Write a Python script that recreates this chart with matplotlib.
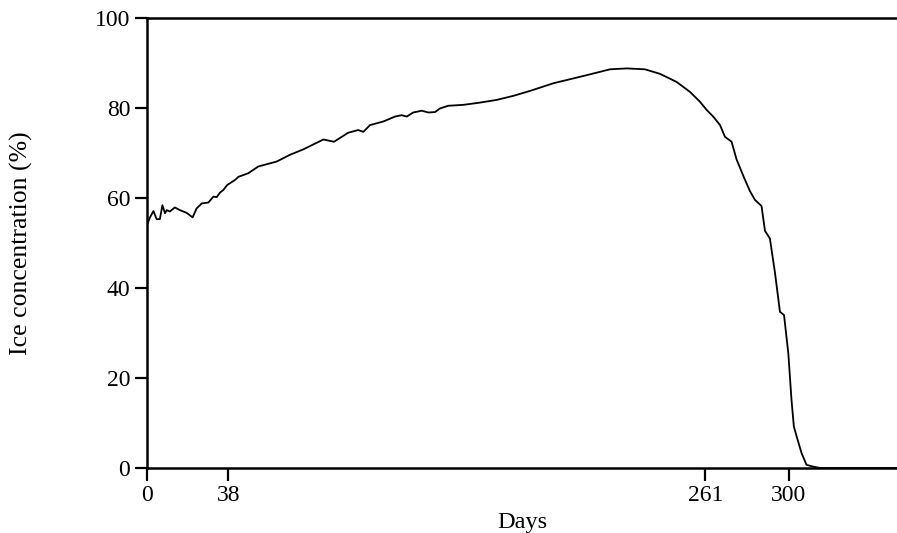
import matplotlib
matplotlib.use("Agg")
import matplotlib.pyplot as plt

# daily ice concentration over the season
days = [0, 1.4, 3, 4.5, 6, 7.2, 8.4, 9.2, 10.7, 13, 15.4, 18.5, 21.3, 23.2, 25.6,
        28.7, 31, 32.6, 34.1, 35.7, 37.5, 41.1, 42.7, 47.3, 52, 60.6, 66.8, 73,
        82.4, 87.4, 94, 98.7, 101.1, 104.2, 110.4, 115.9, 119, 121.4, 124.4,
        128.4, 131.5, 134.6, 136.9, 140.8, 147.8, 155.6, 163.4, 171.2, 179,
        189.9, 205.5, 216.4, 224.2, 232.7, 239.7, 247.5, 253.7, 258.4, 261.5,
        264.6, 267.8, 270.1, 273.2, 275.5, 278.6, 281.8, 284.1, 287.2, 288.8,
        291.1, 293.5, 295.8, 297.7, 299.7, 301.2, 302.3, 303.6, 305.9, 308.2,
        311.3, 314.5, 350]
ice = [54, 55.7, 57.1, 55.3, 55.3, 58.4, 56.6, 57.3, 57, 57.9, 57.3, 56.7, 55.7,
       57.7, 58.8, 59, 60.3, 60.2, 61.2, 61.8, 62.9, 64, 64.7, 65.5, 67, 68.1,
       69.6, 70.8, 73, 72.5, 74.5, 75.1, 74.7, 76.2, 77, 78.1, 78.4, 78.1, 79,
       79.4, 79, 79.1, 79.9, 80.5, 80.7, 81.2, 81.8, 82.7, 83.8, 85.5, 87.3,
       88.6, 88.8, 88.6, 87.6, 85.8, 83.6, 81.4, 79.6, 78.1, 76.2, 73.6, 72.5,
       68.6, 65, 61.5, 59.6, 58.2, 52.7, 51, 43.3, 34.7, 34, 25.5, 15.1, 9.2,
       7, 3.3, 0.7, 0.3, 0, 0]

xticks = [0, 38, 261, 300]
yticks = [0, 20, 40, 60, 80, 100]

plt.rcParams['font.family'] = ['Liberation Serif', 'DejaVu Serif']

fig = plt.figure(figsize=(8.97, 5.33), dpi=100)
ax = fig.add_axes([0.1639, 0.1220, 0.8361, 0.8442])

ax.plot(days, ice, color='black', lw=1.3)

ax.set_xlim(0, 350.5)
ax.set_ylim(0, 100)
ax.set_xticks(xticks)
ax.set_yticks(yticks)
ax.tick_params(direction='out', length=9, width=1.6, labelsize=17, pad=3,
               colors='black')

for side in ['left', 'bottom', 'top']:
    ax.spines[side].set_linewidth(1.8)
ax.spines['right'].set_visible(False)

ax.set_xlabel('Days', fontsize=17.5)
ax.set_ylabel('Ice concentration (%)', fontsize=18.5)
ax.xaxis.set_label_coords(0.5, -0.097)
ax.yaxis.set_label_coords(-0.152, 0.5)

fig.savefig('out.png', dpi=100)
